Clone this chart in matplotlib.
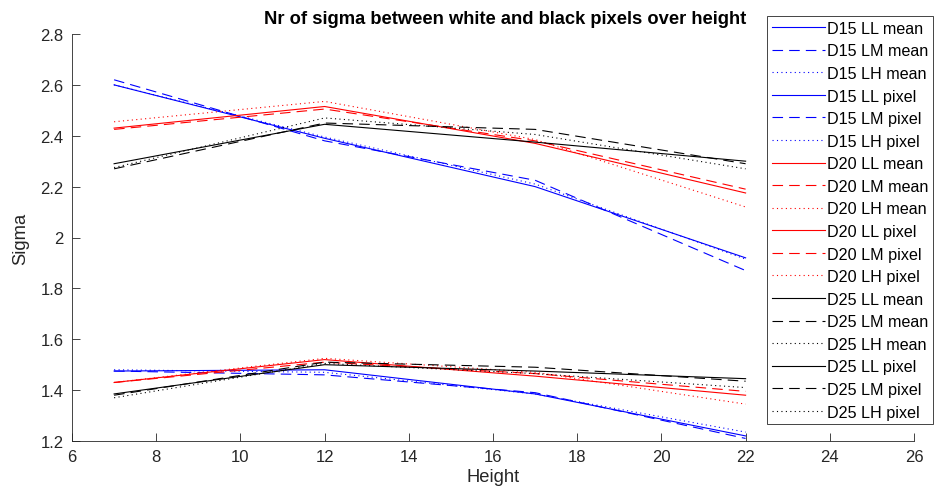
import matplotlib
matplotlib.use("Agg")
import matplotlib.pyplot as plt

plt.rcParams['font.family'] = ['Liberation Sans', 'DejaVu Sans']

heights = [7, 12, 17, 22]

# Sigma based on mean values
d15_ll_mean = [2.600, 2.390, 2.200, 1.920]
d15_lm_mean = [2.620, 2.380, 2.225, 1.870]
d15_lh_mean = [2.600, 2.395, 2.210, 1.915]
d20_ll_mean = [2.430, 2.515, 2.370, 2.175]
d20_lm_mean = [2.425, 2.505, 2.380, 2.190]
d20_lh_mean = [2.455, 2.535, 2.385, 2.120]
d25_ll_mean = [2.290, 2.445, 2.375, 2.300]
d25_lm_mean = [2.270, 2.450, 2.425, 2.290]
d25_lh_mean = [2.275, 2.470, 2.405, 2.270]

# Sigma based on pixel values
d15_ll_pixel = [1.475, 1.480, 1.385, 1.220]
d15_lm_pixel = [1.475, 1.460, 1.390, 1.210]
d15_lh_pixel = [1.480, 1.470, 1.385, 1.235]
d20_ll_pixel = [1.430, 1.520, 1.455, 1.380]
d20_lm_pixel = [1.430, 1.510, 1.465, 1.395]
d20_lh_pixel = [1.430, 1.525, 1.470, 1.345]
d25_ll_pixel = [1.385, 1.500, 1.475, 1.445]
d25_lm_pixel = [1.380, 1.510, 1.490, 1.435]
d25_lh_pixel = [1.370, 1.505, 1.465, 1.410]

x_ticks = [6, 8, 10, 12, 14, 16, 18, 20, 22, 24, 26]
y_ticks = [1.2, 1.4, 1.6, 1.8, 2.0, 2.2, 2.4, 2.6, 2.8]
y_tick_labels = ['1.2', '1.4', '1.6', '1.8', '2', '2.2', '2.4', '2.6', '2.8']

series = [
    ('D15 LL mean', d15_ll_mean, 'b', 'solid'),
    ('D15 LM mean', d15_lm_mean, 'b', 'dashed'),
    ('D15 LH mean', d15_lh_mean, 'b', 'dotted'),
    ('D15 LL pixel', d15_ll_pixel, 'b', 'solid'),
    ('D15 LM pixel', d15_lm_pixel, 'b', 'dashed'),
    ('D15 LH pixel', d15_lh_pixel, 'b', 'dotted'),
    ('D20 LL mean', d20_ll_mean, 'r', 'solid'),
    ('D20 LM mean', d20_lm_mean, 'r', 'dashed'),
    ('D20 LH mean', d20_lh_mean, 'r', 'dotted'),
    ('D20 LL pixel', d20_ll_pixel, 'r', 'solid'),
    ('D20 LM pixel', d20_lm_pixel, 'r', 'dashed'),
    ('D20 LH pixel', d20_lh_pixel, 'r', 'dotted'),
    ('D25 LL mean', d25_ll_mean, 'k', 'solid'),
    ('D25 LM mean', d25_lm_mean, 'k', 'dashed'),
    ('D25 LH mean', d25_lh_mean, 'k', 'dotted'),
    ('D25 LL pixel', d25_ll_pixel, 'k', 'solid'),
    ('D25 LM pixel', d25_lm_pixel, 'k', 'dashed'),
    ('D25 LH pixel', d25_lh_pixel, 'k', 'dotted'),
]

styles = {
    'solid': '-',
    'dashed': (0, (9.5, 5.5)),
    'dotted': (0, (1.0, 3.0)),
}

colors = {'b': (0, 0, 1), 'r': (1, 0, 0), 'k': (0, 0, 0)}

fig = plt.figure(figsize=(9.4, 5.02), dpi=100)
ax = fig.add_axes([72 / 940, 1 - 442 / 502, (914 - 72) / 940, (442 - 35) / 502])

for label, vals, c, ls in series:
    ax.plot(heights, vals, color=colors[c], linestyle=styles[ls], linewidth=0.8, label=label)

axis_gray = (0.15, 0.15, 0.15)
ax.set_xlim(6, 26)
ax.set_ylim(1.2, 2.8)
ax.set_xticks(x_ticks)
ax.set_xticklabels([str(t) for t in x_ticks])
ax.set_yticks(y_ticks)
ax.set_yticklabels(y_tick_labels)
ax.tick_params(direction='in', length=6, width=0.6, colors=axis_gray, labelsize=12, pad=6)
for side in ('top', 'right'):
    ax.spines[side].set_visible(False)
for side in ('left', 'bottom'):
    ax.spines[side].set_color(axis_gray)
    ax.spines[side].set_linewidth(0.6)

ax.text(505 / 940, 1 - 19 / 502, 'Nr of sigma between white and black pixels over height',
        transform=fig.transFigure, ha='center', va='center',
        fontsize=13.2, fontweight='bold', color='black')
ax.set_xlabel('Height', fontsize=13.2, color=axis_gray, labelpad=3)
ax.set_ylabel('Sigma', fontsize=13.2, color=axis_gray, labelpad=8)

leg = fig.legend(loc='upper right', bbox_to_anchor=(933 / 940, 1 - 17 / 502),
                 fontsize=11.6, frameon=True, fancybox=False, framealpha=1,
                 edgecolor=axis_gray, borderaxespad=0, handlelength=3.3,
                 handletextpad=0.12, labelspacing=0.47, borderpad=0.3)
leg.get_frame().set_linewidth(0.6)
for t in leg.get_texts():
    t.set_color('black')

fig.savefig('out.png', dpi=100)
